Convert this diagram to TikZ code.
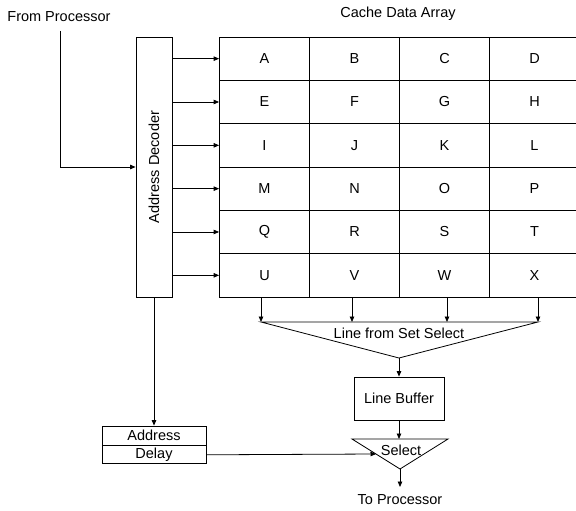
\documentclass[tikz,border=0pt]{standalone}
\usepackage{fontspec}
\setmainfont{Liberation Sans}
\usetikzlibrary{arrows.meta}
\begin{document}
\begin{tikzpicture}[x=1pt,y=-1pt,
  font=\fontsize{14.5}{17}\selectfont,
  line width=0.8pt,
  arr/.style={-{Triangle[length=5.5pt,width=4.5pt]}},
  cell/.style={draw, minimum width=90pt, minimum height=43.33pt, inner sep=0pt},
  boxn/.style={draw, inner sep=0pt},
  lbl/.style={inner sep=1pt}]
\useasboundingbox (0,0) rectangle (576,511);

% labels
\node[lbl, anchor=west] (fp) at (6,17) {From Processor};
\node[lbl] (cda) at (398,14) {Cache Data Array};

% cache grid
\foreach \row/\letters [count=\i from 0] in {1/{A,B,C,D},2/{E,F,G,H},3/{I,J,K,L},4/{M,N,O,P},5/{Q,R,S,T},6/{U,V,W,X}} {
  \foreach \l [count=\j from 0] in \letters {
    \pgfmathtruncatemacro\cc{\j+1}
    \node[cell] (c\row\cc) at ({264.5+90*\j},{37+43.33*(\i+0.5)}) {\l};
  }
}

% address decoder
\node[boxn, minimum width=36pt, minimum height=260pt] (dec) at (154,167) {};
\node[lbl, rotate=90] (dect) at (dec.center) {Address Decoder};

\foreach \r in {1,...,6} {
  \draw[arr] (dec.east |- c\r1.west) -- (c\r1.west);
}

% from processor
\coordinate (fpt) at (60,31);
\draw[arr] (fpt) |- (dec.west);

% outputs to set select
\coordinate (a1) at (261,322);
\coordinate (a2) at (352,322);
\coordinate (a3) at (447,322);
\coordinate (a4) at (538,322);
\coordinate (apex) at (399,358);
\draw[arr] (a1 |- c61.south) -- (a1);
\draw[arr] (a2 |- c62.south) -- (a2);
\draw[arr] (a3 |- c63.south) -- (a3);
\draw[arr] (a4 |- c64.south) -- (a4);
\draw (a1) -- (a4) -- (apex) -- cycle;
\node[lbl] (lsel) at (399,333) {Line from Set Select};

% line buffer
\node[boxn, minimum width=90pt, minimum height=43pt] (lb) at (399,398.5) {Line Buffer};
\draw[arr] (apex) -- (lb.north);

% select triangle
\coordinate (s1) at (352,439);
\coordinate (s2) at (448,439);
\coordinate (sapex) at (400,469);
\draw (s1) -- (s2) -- (sapex) -- cycle;
\node[lbl] (sel) at (401,450) {Select};
\coordinate (sin) at (376,454);
\draw[arr] (lb.south) -- (lb.south |- s1);

% to processor
\coordinate (tp) at (400,487);
\draw[arr] (sapex) -- (tp);
\node[lbl] (tpt) at (400,500) {To Processor};

% address delay
\node[boxn, minimum width=104pt, minimum height=19pt] (addr) at (154,435.5) {Address};
\node[boxn, minimum width=104pt, minimum height=18pt, anchor=north] (delay) at (addr.south) {Delay};
\draw[arr] (dec.south) -- (addr.north);
\draw[arr] (delay.east) -- (sin);
\end{tikzpicture}
\end{document}
